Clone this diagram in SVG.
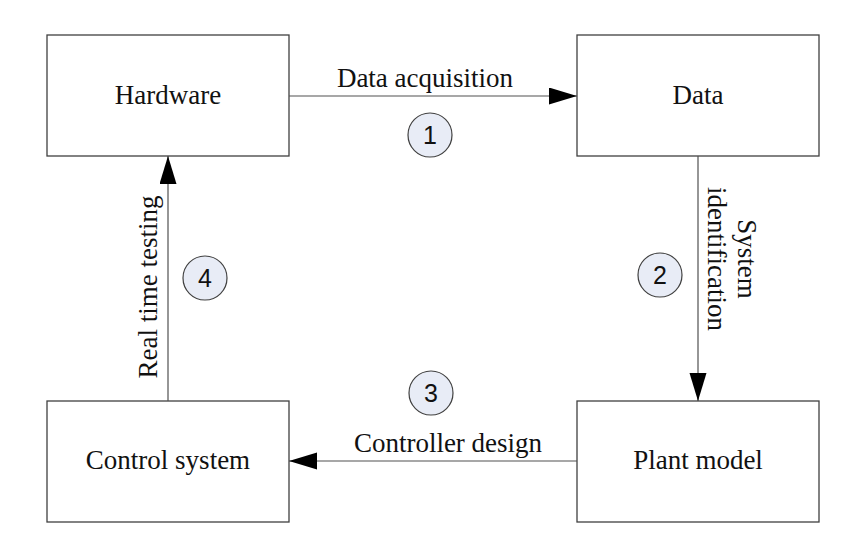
<svg xmlns="http://www.w3.org/2000/svg" width="844" height="546" viewBox="0 0 844 546">
<style>
.box{fill:#fff;stroke:#404040;stroke-width:1.3}
.lbl{font-family:"Liberation Serif","Times New Roman",serif;font-size:27px;fill:#111;text-anchor:middle}
.con{fill:none;stroke:#505050;stroke-width:1.2}
.num circle{fill:#e8ecf6;stroke:#404040;stroke-width:1.2}
.num text{font-family:"Liberation Sans",Arial,sans-serif;font-size:25px;fill:#111;text-anchor:middle}
</style>
<defs>
<marker id="ah" markerUnits="userSpaceOnUse" markerWidth="30" markerHeight="18" refX="28" refY="8.5" orient="auto">
<path d="M0,0 L28,8.5 L0,17 z" fill="#000"/>
</marker>
</defs>
<rect width="844" height="546" fill="#fff"/>
<g id="hardware"><rect class="box" x="47" y="35" width="242" height="121"/><text class="lbl" x="168" y="104">Hardware</text></g>
<g id="data"><rect class="box" x="577" y="35" width="242" height="121"/><text class="lbl" x="698" y="104">Data</text></g>
<g id="control"><rect class="box" x="47" y="401" width="242" height="121"/><text class="lbl" x="168" y="469">Control system</text></g>
<g id="plant"><rect class="box" x="577" y="401" width="242" height="121"/><text class="lbl" x="698" y="469">Plant model</text></g>
<g id="connectors">
<line class="con" x1="289" y1="96" x2="577" y2="96" marker-end="url(#ah)"/>
<line class="con" x1="698" y1="156" x2="698" y2="401" marker-end="url(#ah)"/>
<line class="con" x1="577" y1="461" x2="289" y2="461" marker-end="url(#ah)"/>
<line class="con" x1="168" y1="401" x2="168" y2="156" marker-end="url(#ah)"/>
<text class="lbl" x="425" y="87">Data acquisition</text>
<text class="lbl" x="448" y="452">Controller design</text>
<g transform="rotate(90)"><text class="lbl" x="259" y="-738">System</text><text class="lbl" x="259" y="-708">identification</text></g>
<g transform="rotate(-90)"><text class="lbl" x="-287" y="157">Real time testing</text></g>
</g>
<g id="step1" class="num"><circle cx="430" cy="135" r="22"/><text x="430" y="144">1</text></g>
<g id="step2" class="num"><circle cx="660" cy="275" r="22"/><text x="660" y="284">2</text></g>
<g id="step3" class="num"><circle cx="431" cy="393" r="22"/><text x="431" y="402">3</text></g>
<g id="step4" class="num"><circle cx="205" cy="278" r="22"/><text x="205" y="287">4</text></g>
</svg>
